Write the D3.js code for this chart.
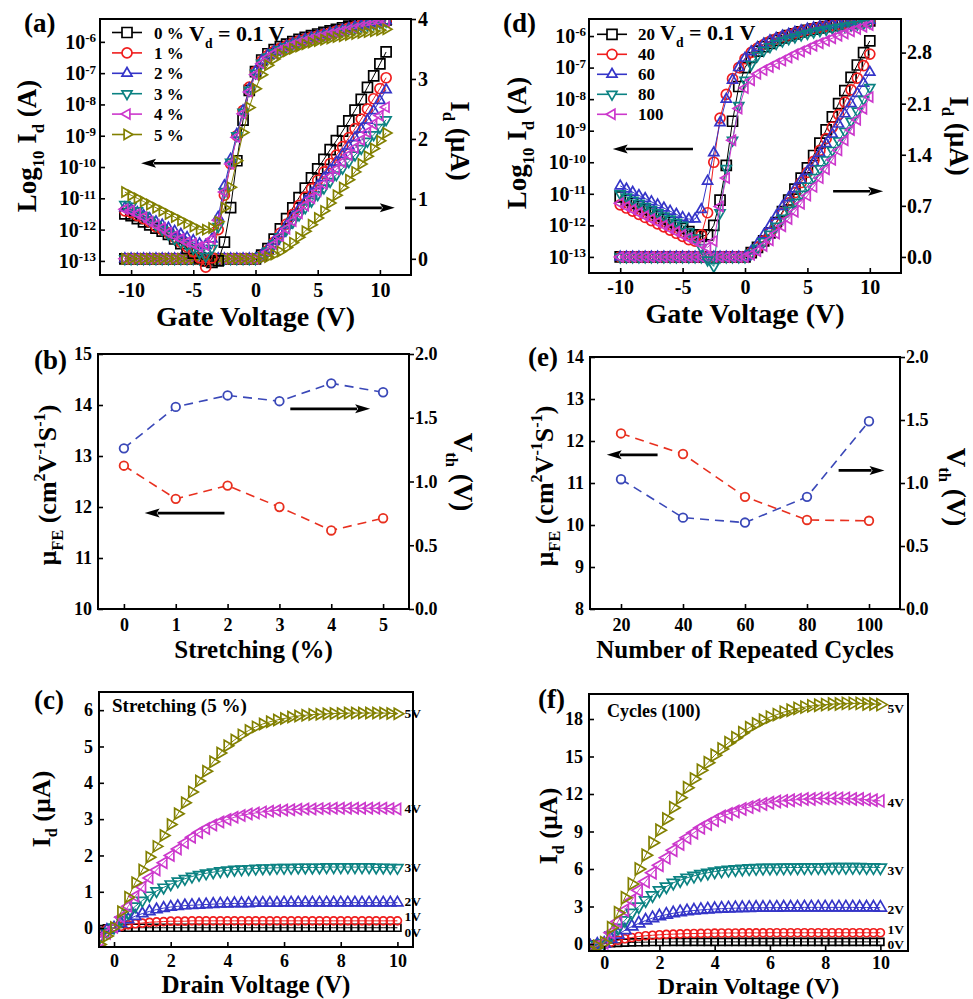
<!DOCTYPE html>
<html>
<head>
<meta charset="utf-8">
<script src="https://cdn.jsdelivr.net/npm/d3@7"></script>
<style>
  body { margin: 0; background: #fff; }
  svg text { white-space: pre; }
</style>
</head>
<body>
<div id="chart"></div>
<script>
//Colores y símbolos (orden Origin)
const FONT = '"Liberation Serif","Times New Roman",serif';
const COLORS = ['#000000', '#F01E1E', '#3535C8', '#0B8282', '#CC38CC', '#828000'];
const MARKS = ['square', 'circle', 'up', 'down', 'left', 'right'];
const MU_COLOR = '#E8301F', VTH_COLOR = '#3A48B8';

//Etiquetas
const strainLabels = ['0 %', '1 %', '2 %', '3 %', '4 %', '5 %'];
const cycleLabels = ['20', '40', '60', '80', '100'];
const gateLabels = ['0V', '1V', '2V', '3V', '4V', '5V'];

//Ticks
const logTicks = [-13, -12, -11, -10, -9, -8, -7, -6];
const gateTicks = [-10, -5, 0, 5, 10];
const linTicksStrain = [0, 1, 2, 3, 4];
const linTicksCycle = [0, 0.7, 1.4, 2.1, 2.8];
const stretchTicks = [0, 1, 2, 3, 4, 5];
const muTicksStretch = [10, 11, 12, 13, 14, 15];
const cycleTicks = [20, 40, 60, 80, 100];
const muTicksCycle = [8, 9, 10, 11, 12, 13, 14];
const vthTicks = [0, 0.5, 1, 1.5, 2];
const drainTicks = [0, 2, 4, 6, 8, 10];
const idTicksStretch = [0, 1, 2, 3, 4, 5, 6];
const idTicksCycle = [0, 3, 6, 9, 12, 15, 18];

//(a) Transferencia vs estiramiento: Vg (V), log10 Id (A), Id (µA)
const vgStrain = [-10.5,-10,-9.5,-9,-8.5,-8,-7.5,-7,-6.5,-6,-5.5,-5,-4.5,-4,-3.5,-3,-2.5,-2,-1.5,-1,-0.5,
  0,0.5,1,1.5,2,2.5,3,3.5,4,4.5,5,5.5,6,6.5,7,7.5,8,8.5,9,9.5,10,10.5];
const logIdStrain = [
  [-11.5,-11.55,-11.65,-11.75,-11.85,-11.95,-12.05,-12.15,-12.3,-12.45,-12.6,-12.75,-12.9,-13.0,-13.05,-13.0,-12.4,-11.3,-9.8,-8.5,-7.55,
   -6.95,-6.58,-6.38,-6.25,-6.15,-6.07,-5.99,-5.92,-5.86,-5.8,-5.75,-5.7,-5.65,-5.6,-5.55,-5.5,-5.45,-5.41,-5.38,-5.35,-5.32,-5.3],
  [-11.4,-11.45,-11.55,-11.65,-11.75,-11.9,-12.0,-12.1,-12.25,-12.4,-12.55,-12.7,-12.9,-13.2,-12.9,-12.0,-10.9,-9.9,-9.0,-8.2,-7.45,
   -6.95,-6.62,-6.43,-6.3,-6.2,-6.12,-6.04,-5.97,-5.91,-5.86,-5.81,-5.76,-5.71,-5.66,-5.61,-5.56,-5.51,-5.47,-5.43,-5.39,-5.35,-5.32],
  [-11.3,-11.35,-11.45,-11.55,-11.65,-11.75,-11.85,-11.95,-12.05,-12.15,-12.25,-12.35,-12.45,-12.5,-12.3,-11.6,-10.6,-9.75,-8.95,-8.2,-7.5,
   -6.95,-6.6,-6.42,-6.3,-6.22,-6.13,-6.05,-5.98,-5.92,-5.87,-5.82,-5.77,-5.72,-5.67,-5.62,-5.57,-5.52,-5.48,-5.44,-5.4,-5.36,-5.33],
  [-11.2,-11.25,-11.4,-11.55,-11.7,-11.85,-12.0,-12.15,-12.3,-12.4,-12.5,-12.6,-12.75,-12.85,-12.6,-11.9,-10.8,-9.85,-9.0,-8.25,-7.55,
   -7.0,-6.68,-6.48,-6.35,-6.25,-6.16,-6.08,-6.01,-5.95,-5.89,-5.84,-5.79,-5.74,-5.69,-5.64,-5.59,-5.55,-5.5,-5.46,-5.42,-5.38,-5.34],
  [-11.35,-11.4,-11.5,-11.6,-11.75,-11.85,-11.95,-12.1,-12.2,-12.3,-12.4,-12.45,-12.55,-12.5,-12.3,-11.7,-10.8,-9.9,-9.05,-8.3,-7.6,
   -7.05,-6.7,-6.5,-6.37,-6.27,-6.18,-6.1,-6.03,-5.97,-5.91,-5.86,-5.81,-5.76,-5.71,-5.66,-5.61,-5.57,-5.52,-5.48,-5.44,-5.4,-5.36],
  [-10.8,-10.9,-11.0,-11.1,-11.2,-11.3,-11.4,-11.5,-11.6,-11.7,-11.8,-11.9,-12.0,-12.0,-11.95,-11.75,-11.3,-10.65,-9.8,-8.9,-8.1,
   -7.5,-7.05,-6.75,-6.55,-6.4,-6.3,-6.22,-6.15,-6.08,-6.02,-5.97,-5.93,-5.89,-5.85,-5.82,-5.78,-5.75,-5.72,-5.69,-5.66,-5.63,-5.6]
];
const linIdStrain = [
  [0,0,0,0,0,0,0,0,0,0,0, 0,0,0,0,0,0,0,0,0,0,0,
   0.06,0.17,0.33,0.5,0.67,0.85,1.02,1.18,1.35,1.5,1.66,1.82,1.97,2.13,2.3,2.48,2.66,2.86,3.05,3.25,3.45],
  [0,0,0,0,0,0,0,0,0,0,0, 0,0,0,0,0,0,0,0,0,0,0,
   0.05,0.14,0.28,0.43,0.58,0.74,0.89,1.03,1.17,1.31,1.45,1.59,1.73,1.87,2.02,2.17,2.33,2.5,2.67,2.84,3.02],
  [0,0,0,0,0,0,0,0,0,0,0, 0,0,0,0,0,0,0,0,0,0,0,
   0.06,0.16,0.29,0.42,0.56,0.7,0.83,0.96,1.09,1.22,1.35,1.48,1.61,1.74,1.88,2.02,2.16,2.31,2.47,2.64,2.82],
  [0,0,0,0,0,0,0,0,0,0,0, 0,0,0,0,0,0,0,0,0,0,0,
   0.05,0.13,0.25,0.37,0.49,0.61,0.73,0.85,0.96,1.07,1.18,1.29,1.4,1.51,1.62,1.73,1.84,1.96,2.07,2.19,2.32],
  [0,0,0,0,0,0,0,0,0,0,0, 0,0,0,0,0,0,0,0,0,0,0,
   0.04,0.12,0.24,0.37,0.5,0.63,0.76,0.89,1.01,1.13,1.25,1.37,1.49,1.61,1.73,1.85,1.98,2.11,2.25,2.39,2.53],
  [0,0,0,0,0,0,0,0,0,0,0, 0,0,0,0,0,0,0,0,0,0,0,
   0.01,0.03,0.07,0.12,0.19,0.27,0.36,0.46,0.57,0.68,0.8,0.93,1.06,1.19,1.32,1.45,1.58,1.71,1.84,1.97,2.1]
];

//(d) Transferencia vs ciclos
const vgCycle = [-10,-9.5,-9,-8.5,-8,-7.5,-7,-6.5,-6,-5.5,-5,-4.5,-4,-3.5,-3,-2.5,-2,-1.5,-1,-0.5,
  0,0.5,1,1.5,2,2.5,3,3.5,4,4.5,5,5.5,6,6.5,7,7.5,8,8.5,9,9.5,10];
const logIdCycle = [
  [-11.1,-11.2,-11.3,-11.4,-11.5,-11.6,-11.7,-11.8,-11.9,-12.0,-12.1,-12.2,-12.3,-12.35,-12.3,-12.0,-11.2,-10.1,-8.7,-7.6,
   -7.0,-6.68,-6.48,-6.34,-6.23,-6.14,-6.06,-5.99,-5.93,-5.87,-5.82,-5.78,-5.74,-5.7,-5.67,-5.64,-5.61,-5.58,-5.56,-5.54,-5.52],
  [-11.35,-11.45,-11.55,-11.65,-11.75,-11.85,-11.95,-12.05,-12.15,-12.25,-12.35,-12.45,-12.5,-12.3,-11.6,-10.0,-8.6,-7.85,-7.35,-7.0,
   -6.72,-6.52,-6.38,-6.27,-6.17,-6.09,-6.02,-5.96,-5.9,-5.85,-5.8,-5.76,-5.72,-5.69,-5.66,-5.63,-5.6,-5.58,-5.56,-5.54,-5.52],
  [-10.75,-10.85,-10.95,-11.05,-11.15,-11.25,-11.35,-11.45,-11.55,-11.65,-11.75,-11.8,-11.8,-11.5,-10.6,-9.7,-8.75,-8.0,-7.4,-7.0,
   -6.7,-6.5,-6.36,-6.25,-6.15,-6.07,-6.0,-5.94,-5.88,-5.83,-5.78,-5.74,-5.7,-5.67,-5.64,-5.61,-5.58,-5.56,-5.54,-5.52,-5.5],
  [-11.0,-11.1,-11.2,-11.3,-11.4,-11.5,-11.6,-11.7,-11.8,-11.9,-12.0,-12.2,-12.4,-12.7,-13.1,-13.3,-11.6,-10.2,-9.3,-8.2,
   -7.4,-6.9,-6.62,-6.46,-6.34,-6.24,-6.16,-6.09,-6.03,-5.97,-5.92,-5.87,-5.83,-5.79,-5.75,-5.72,-5.69,-5.66,-5.63,-5.6,-5.57],
  [-11.3,-11.4,-11.5,-11.6,-11.7,-11.8,-11.9,-12.0,-12.1,-12.2,-12.3,-12.4,-12.5,-12.6,-12.7,-12.5,-11.4,-10.5,-9.3,-8.3,
   -7.65,-7.4,-7.2,-7.08,-6.98,-6.88,-6.78,-6.68,-6.58,-6.49,-6.4,-6.31,-6.23,-6.15,-6.07,-5.99,-5.92,-5.85,-5.78,-5.71,-5.65]
];
const linIdCycle = [
  [0,0,0,0,0,0,0,0,0,0, 0,0,0,0,0,0,0,0,0,0,0,
   0.06,0.13,0.22,0.33,0.47,0.62,0.78,0.93,1.08,1.22,1.39,1.56,1.74,1.92,2.1,2.28,2.46,2.63,2.8,2.96],
  [0,0,0,0,0,0,0,0,0,0, 0,0,0,0,0,0,0,0,0,0,0,
   0.06,0.13,0.22,0.33,0.46,0.6,0.74,0.88,1.02,1.16,1.31,1.46,1.62,1.78,1.95,2.12,2.29,2.45,2.62,2.78],
  [0,0,0,0,0,0,0,0,0,0, 0,0,0,0,0,0,0,0,0,0,0,
   0.08,0.18,0.3,0.43,0.56,0.69,0.81,0.93,1.05,1.17,1.29,1.42,1.55,1.68,1.82,1.96,2.1,2.24,2.38,2.53],
  [0,0,0,0,0,0,0,0,0,0, 0,0,0,0,0,0,0,0,0,0,0,
   0.05,0.12,0.21,0.31,0.42,0.53,0.64,0.75,0.86,0.97,1.09,1.21,1.33,1.46,1.59,1.72,1.86,2.0,2.16,2.32],
  [0,0,0,0,0,0,0,0,0,0, 0,0,0,0,0,0,0,0,0,0,0,
   0.03,0.08,0.15,0.23,0.32,0.42,0.52,0.62,0.73,0.84,0.96,1.08,1.2,1.33,1.46,1.6,1.74,1.88,2.03,2.19]
];

//(b) Movilidad y Vth vs estiramiento
const stretchLevels = [0, 1, 2, 3, 4, 5];
const muStretch = [12.81, 12.16, 12.42, 12.0, 11.54, 11.78];
const vthStretch = [1.26, 1.585, 1.675, 1.63, 1.77, 1.70];

//(e) Movilidad y Vth vs ciclos
const cycleCounts = [20, 40, 60, 80, 100];
const muCycle = [12.18, 11.69, 10.67, 10.12, 10.10];
const vthCycle = [1.03, 0.725, 0.686, 0.89, 1.49];

//(c) y (f) Curvas de salida: Vd (V), Id (µA) para Vg = 0..5 V
const vdSweep = [-0.5,-0.25,0,0.25,0.5,0.75,1,1.25,1.5,1.75,
  2,2.25,2.5,2.75,3,3.25,3.5,3.75,4,4.25,
  4.5,4.75,5,5.25,5.5,5.75,6,6.25,6.5,6.75,
  7,7.25,7.5,7.75,8,8.25,8.5,8.75,9,9.25,
  9.5,9.75,10];
const idStretch5 = [
  [-0.03,-0.01,0,0.01,0.01,0.01,0.01,0.01,0.01,0.01,
   0.01,0.01,0.01,0.01,0.01,0.01,0.01,0.01,0.01,0.01,
   0.01,0.01,0.01,0.01,0.01,0.01,0.01,0.01,0.01,0.01,
   0.01,0.01,0.01,0.01,0.01,0.01,0.01,0.01,0.01,0.01,
   0.01,0.01,0.01],
  [-0.08,-0.03,0,0.05,0.09,0.12,0.14,0.16,0.17,0.18,
   0.19,0.19,0.19,0.2,0.2,0.2,0.2,0.2,0.2,0.2,
   0.2,0.2,0.2,0.2,0.2,0.2,0.2,0.2,0.2,0.2,
   0.2,0.2,0.2,0.2,0.2,0.2,0.2,0.2,0.2,0.2,
   0.2,0.2,0.2],
  [-0.15,-0.05,0.01,0.13,0.24,0.33,0.4,0.46,0.51,0.55,
   0.58,0.6,0.62,0.63,0.64,0.65,0.66,0.67,0.67,0.68,
   0.68,0.68,0.69,0.69,0.69,0.69,0.7,0.7,0.7,0.7,
   0.7,0.7,0.7,0.7,0.7,0.7,0.7,0.7,0.7,0.7,
   0.7,0.7,0.7],
  [-0.25,-0.1,0.02,0.22,0.42,0.6,0.76,0.9,1.02,1.12,
   1.21,1.29,1.36,1.42,1.47,1.51,1.54,1.57,1.59,1.61,
   1.62,1.63,1.64,1.65,1.65,1.66,1.66,1.66,1.67,1.67,
   1.67,1.67,1.68,1.68,1.68,1.68,1.68,1.68,1.68,1.67,
   1.67,1.66,1.66],
  [-0.35,-0.15,0.02,0.3,0.6,0.88,1.13,1.38,1.6,1.8,
   2.0,2.18,2.35,2.5,2.63,2.74,2.84,2.92,2.99,3.05,
   3.1,3.14,3.17,3.2,3.22,3.24,3.25,3.26,3.27,3.28,
   3.28,3.29,3.29,3.3,3.3,3.3,3.3,3.3,3.3,3.3,
   3.3,3.29,3.28],
  [-0.45,-0.22,0.02,0.45,0.85,1.25,1.6,1.95,2.25,2.55,
   2.85,3.15,3.45,3.75,4.05,4.32,4.58,4.82,5.02,5.18,
   5.32,5.44,5.54,5.62,5.68,5.73,5.77,5.81,5.84,5.86,
   5.88,5.89,5.9,5.91,5.91,5.92,5.92,5.92,5.92,5.92,
   5.92,5.91,5.9]
];
const idCycle100 = [
  [-0.05,0,0.02,0.06,0.09,0.11,0.13,0.14,0.15,0.16,
   0.16,0.16,0.17,0.17,0.17,0.17,0.17,0.17,0.17,0.17,
   0.17,0.17,0.17,0.17,0.17,0.17,0.17,0.17,0.17,0.17,
   0.17,0.17,0.17,0.17,0.17,0.17,0.17,0.17,0.17,0.17,
   0.17,0.17,0.17],
  [-0.1,-0.03,0.02,0.15,0.3,0.42,0.52,0.6,0.66,0.7,
   0.74,0.77,0.79,0.81,0.83,0.84,0.85,0.86,0.87,0.88,
   0.88,0.88,0.89,0.89,0.89,0.89,0.9,0.9,0.9,0.9,
   0.9,0.9,0.9,0.9,0.9,0.9,0.9,0.9,0.9,0.9,
   0.9,0.9,0.9],
  [-0.2,-0.05,0.03,0.4,0.75,1.1,1.4,1.65,1.88,2.07,
   2.22,2.35,2.46,2.55,2.62,2.68,2.73,2.77,2.8,2.83,
   2.85,2.87,2.88,2.89,2.9,2.9,2.91,2.91,2.92,2.92,
   2.92,2.93,2.93,2.93,2.93,2.93,2.93,2.93,2.93,2.92,
   2.92,2.92,2.91],
  [-0.3,-0.1,0.05,0.7,1.3,1.9,2.5,3.0,3.5,3.9,
   4.3,4.6,4.9,5.1,5.3,5.45,5.6,5.7,5.8,5.87,
   5.93,5.98,6.02,6.05,6.07,6.09,6.1,6.1,6.11,6.12,
   6.12,6.13,6.13,6.14,6.14,6.15,6.15,6.15,6.15,6.15,
   6.14,6.13,6.12],
  [-0.4,-0.15,0.1,0.9,1.8,2.7,3.5,4.3,5.0,5.7,
   6.3,6.9,7.5,8.0,8.5,8.9,9.3,9.6,9.9,10.2,
   10.4,10.6,10.8,10.95,11.1,11.2,11.3,11.4,11.45,11.5,
   11.55,11.6,11.6,11.65,11.65,11.65,11.65,11.65,11.6,11.6,
   11.55,11.5,11.45],
  [-0.5,-0.2,0.1,1.3,2.5,3.7,4.8,6.0,7.1,8.1,
   9.1,10.0,10.9,11.7,12.5,13.2,13.9,14.5,15.1,15.6,
   16.1,16.5,16.9,17.3,17.6,17.9,18.15,18.35,18.55,18.7,
   18.85,18.95,19.05,19.1,19.15,19.2,19.2,19.25,19.25,19.25,
   19.2,19.2,19.15]
];

/////
// Lienzo
/////
const svg = d3.select('#chart').append('svg')
  .attr('width', 973).attr('height', 999)
  .attr('font-family', FONT).attr('font-weight', 'bold');
svg.append('rect').attr('width', 973).attr('height', 999).attr('fill', '#fff');
const defs = svg.append('defs');

const SYMBOLS = {
  square: { type: d3.symbolSquare, rot: 0, area: w => w * w },
  circle: { type: d3.symbolCircle, rot: 0, area: w => Math.PI * w * w / 4 },
  up:     { type: d3.symbolTriangle, rot: 0, area: w => Math.sqrt(3) / 4 * w * w },
  down:   { type: d3.symbolTriangle, rot: 180, area: w => Math.sqrt(3) / 4 * w * w },
  left:   { type: d3.symbolTriangle, rot: -90, area: w => Math.sqrt(3) / 4 * w * w },
  right:  { type: d3.symbolTriangle, rot: 90, area: w => Math.sqrt(3) / 4 * w * w }
};

//Texto con sub/superíndices
function richText(parent, x, y, parts, size, opts) {
  opts = opts || {};
  let t = parent.append('text')
    .attr('font-size', size)
    .attr('fill', '#000')
    .attr('text-anchor', opts.anchor || 'start')
    .attr('transform', 'translate(' + x + ',' + y + ')' + (opts.rotate ? ' rotate(' + opts.rotate + ')' : ''));
  let shift = 0;
  parts.forEach(function(p) {
    let mode = p[1] || '';
    let target = mode === 'sup' ? -0.42 * size : mode === 'sub' ? (opts.subDrop || 0.28) * size : 0;
    let ts = t.append('tspan').attr('dy', target - shift).text(p[0]);
    if (mode) ts.attr('font-size', size * 0.62);
    shift = target;
  });
  return t;
}

function makePanel(id, box) {
  let g = svg.append('g').attr('class', 'panel-' + id);
  defs.append('clipPath').attr('id', 'clip-' + id).append('rect')
    .attr('x', box.x0).attr('y', box.y0)
    .attr('width', box.x1 - box.x0).attr('height', box.y1 - box.y0);
  let plot = g.append('g').attr('clip-path', 'url(#clip-' + id + ')');
  return { g: g, plot: plot };
}

function drawFrame(g, box) {
  g.append('rect')
    .attr('x', box.x0).attr('y', box.y0)
    .attr('width', box.x1 - box.x0).attr('height', box.y1 - box.y0)
    .attr('fill', 'none').attr('stroke', '#000').attr('stroke-width', 2);
}

function addAxis(g, axis, tx, ty, size) {
  return g.append('g')
    .attr('transform', 'translate(' + tx + ',' + ty + ')')
    .call(axis)
    .attr('font-family', FONT).attr('font-size', size).attr('font-weight', 'bold')
    .call(function(a) { a.select('.domain').remove(); })
    .call(function(a) { a.selectAll('.tick line').attr('stroke', '#000').attr('stroke-width', 1.6); })
    .call(function(a) { a.selectAll('.tick text').attr('fill', '#000'); });
}

function symbolPath(mark, w) {
  let def = SYMBOLS[mark];
  return d3.symbol().type(def.type).size(def.area(w))();
}

function drawSeries(plot, xs, ys, x, y, color, mark, w, lineW) {
  let pts = d3.zip(xs, ys);
  if (lineW) {
    plot.append('path').datum(pts)
      .attr('d', d3.line().x(function(d) { return x(d[0]); }).y(function(d) { return y(d[1]); }))
      .attr('fill', 'none').attr('stroke', color).attr('stroke-width', lineW);
  }
  let def = SYMBOLS[mark];
  plot.append('g').selectAll('path').data(pts).join('path')
    .attr('d', symbolPath(mark, w))
    .attr('transform', function(d) { return 'translate(' + x(d[0]) + ',' + y(d[1]) + ') rotate(' + def.rot + ')'; })
    .attr('fill', 'none').attr('stroke', color).attr('stroke-width', 1.7);
}

function arrow(g, x1, x2, yy) {
  let dir = Math.sign(x2 - x1), head = 15, half = 4.5;
  g.append('line')
    .attr('x1', x1).attr('y1', yy).attr('x2', x2 - dir * (head - 2)).attr('y2', yy)
    .attr('stroke', '#000').attr('stroke-width', 2.6);
  g.append('path')
    .attr('d', 'M' + x2 + ',' + yy + 'L' + (x2 - dir * head) + ',' + (yy - half) +
      'L' + (x2 - dir * (head - 3)) + ',' + yy + 'L' + (x2 - dir * head) + ',' + (yy + half) + 'Z')
    .attr('fill', '#000');
}

const LOG_LABEL = [['Log'], ['10', 'sub'], [' I'], ['d', 'sub'], [' (A)']];
const ID_LABEL = [['I'], ['d', 'sub'], [' (µA)']];
const MU_LABEL = [['µ'], ['FE', 'sub'], [' (cm'], ['2', 'sup'], ['V'], ['-1', 'sup'], ['S'], ['-1', 'sup'], [')']];
const VTH_LABEL = [['V'], ['th', 'sub'], [' (V)']];
const VD_LABEL = [['V'], ['d', 'sub'], [' = 0.1 V']];

/////
// Paneles de transferencia (a) y (d)
/////
function transferPanel(cfg) {
  let p = makePanel(cfg.id, cfg.box), box = cfg.box;
  let x = d3.scaleLinear().domain(cfg.xDom).range([box.x0, box.x1]);
  let yL = d3.scaleLinear().domain(cfg.logDom).range([box.y1, box.y0]);
  let yR = d3.scaleLinear().domain(cfg.linDom).range([box.y1, box.y0]);

  cfg.lin.forEach(function(s, i) { drawSeries(p.plot, cfg.vg, s, x, yR, COLORS[i], MARKS[i], 10, 1); });
  cfg.log.forEach(function(s, i) { drawSeries(p.plot, cfg.vg, s, x, yL, COLORS[i], MARKS[i], 10, 1); });

  drawFrame(p.g, box);
  addAxis(p.g, d3.axisBottom(x).tickValues(gateTicks).tickSize(-5).tickPadding(cfg.xPad).tickFormat(function(d) { return String(d); }), 0, box.y1, 20);
  let la = addAxis(p.g, d3.axisLeft(yL).tickValues(logTicks).tickSize(-5).tickPadding(cfg.lPad).tickFormat(function() { return '10'; }), box.x0, 0, 20);
  la.selectAll('.tick text').append('tspan').attr('dy', '-0.5em').attr('font-size', 13).text(function(d) { return String(d); });
  addAxis(p.g, d3.axisRight(yR).tickValues(cfg.linTicks).tickSize(5).tickPadding(cfg.rPad).tickFormat(cfg.linFmt), box.x1, 0, 20);

  //Leyenda
  let lg = cfg.legend;
  cfg.names.forEach(function(name, i) {
    let cy = lg.y0 + i * lg.dy;
    p.g.append('line').attr('x1', lg.x0).attr('x2', lg.x1).attr('y1', cy).attr('y2', cy)
      .attr('stroke', COLORS[i]).attr('stroke-width', 1.6);
    p.g.append('path').attr('d', symbolPath(MARKS[i], 10))
      .attr('transform', 'translate(' + ((lg.x0 + lg.x1) / 2) + ',' + cy + ') rotate(' + SYMBOLS[MARKS[i]].rot + ')')
      .attr('fill', '#fff').attr('stroke', COLORS[i]).attr('stroke-width', 1.7);
    p.g.append('text').attr('x', lg.tx).attr('y', cy + 6).attr('font-size', 17).attr('fill', '#000').text(name);
  });
  richText(p.g, cfg.vd[0], cfg.vd[1], VD_LABEL, 22, { subDrop: 0.3 });

  //Flechas
  arrow(p.g, x(cfg.arrL[0]), x(cfg.arrL[1]), yL(cfg.arrL[2]));
  arrow(p.g, x(cfg.arrR[0]), x(cfg.arrR[1]), yR(cfg.arrR[2]));

  //Títulos
  richText(p.g, (box.x0 + box.x1) / 2, cfg.xTitleY, [['Gate Voltage (V)']], 28, { anchor: 'middle' });
  richText(p.g, cfg.lTitle[0], cfg.lTitle[1], LOG_LABEL, 27, { anchor: 'middle', rotate: -90 });
  richText(p.g, cfg.rTitle[0], cfg.rTitle[1], ID_LABEL, 27, { anchor: 'middle', rotate: 90 });
  richText(p.g, cfg.tag[0], cfg.tag[1], [[cfg.tagText]], 27);
}

transferPanel({
  id: 'a', box: { x0: 100, x1: 411, y0: 19, y1: 275 },
  xDom: [-12.5, 12.5], logDom: [-13.45, -5.27], linDom: [-0.27, 4],
  vg: vgStrain, log: logIdStrain, lin: linIdStrain, names: strainLabels,
  linTicks: linTicksStrain, linFmt: d3.format('d'),
  xPad: 8, lPad: 4, rPad: 2,
  legend: { x0: 112, x1: 142, tx: 154, y0: 32.5, dy: 20.4 },
  vd: [189, 41],
  arrL: [-2.8, -9.2, -9.88], arrR: [7.2, 11.2, 0.85],
  xTitleY: 326, lTitle: [36, 146], rTitle: [451, 141], tag: [24, 32], tagText: '(a)'
});

transferPanel({
  id: 'd', box: { x0: 589, x1: 901, y0: 19, y1: 273 },
  xDom: [-12.5, 12.5], logDom: [-13.51, -5.46], linDom: [-0.22, 3.26],
  vg: vgCycle, log: logIdCycle, lin: linIdCycle, names: cycleLabels,
  linTicks: linTicksCycle, linFmt: d3.format('.1f'),
  xPad: 7, lPad: 3, rPad: 1,
  legend: { x0: 597, x1: 627, tx: 638, y0: 34.3, dy: 20 },
  vd: [660, 40],
  arrL: [-4.17, -10.6, -9.58], arrR: [7.06, 11.07, 0.9],
  xTitleY: 323, lTitle: [526, 143], rTitle: [950, 136], tag: [503, 32], tagText: '(d)'
});

/////
// Paneles de movilidad y Vth (b) y (e)
/////
function paramPanel(cfg) {
  let p = makePanel(cfg.id, cfg.box), box = cfg.box;
  let x = d3.scaleLinear().domain(cfg.xDom).range([box.x0, box.x1]);
  let yL = d3.scaleLinear().domain(cfg.muDom).range([box.y1, box.y0]);
  let yR = d3.scaleLinear().domain([0, 2]).range([box.y1, box.y0]);

  [[cfg.vth, yR, VTH_COLOR], [cfg.mu, yL, MU_COLOR]].forEach(function(s) {
    let pts = d3.zip(cfg.xs, s[0]);
    p.plot.append('path').datum(pts)
      .attr('d', d3.line().x(function(d) { return x(d[0]); }).y(function(d) { return s[1](d[1]); }))
      .attr('fill', 'none').attr('stroke', s[2]).attr('stroke-width', 1.6).attr('stroke-dasharray', '9,6');
    p.plot.append('g').selectAll('circle').data(pts).join('circle')
      .attr('cx', function(d) { return x(d[0]); }).attr('cy', function(d) { return s[1](d[1]); })
      .attr('r', 4.3).attr('fill', '#fff').attr('stroke', s[2]).attr('stroke-width', 1.8);
  });

  drawFrame(p.g, box);
  addAxis(p.g, d3.axisBottom(x).tickValues(cfg.xTicks).tickSize(-5).tickPadding(cfg.xPad).tickFormat(d3.format('d')), 0, box.y1, 18);
  addAxis(p.g, d3.axisLeft(yL).tickValues(cfg.muTicks).tickSize(-5).tickPadding(6).tickFormat(d3.format('d')), box.x0, 0, 18);
  addAxis(p.g, d3.axisRight(yR).tickValues(vthTicks).tickSize(5).tickPadding(1).tickFormat(d3.format('.1f')), box.x1, 0, 18);

  arrow(p.g, x(cfg.arrMu[0]), x(cfg.arrMu[1]), yL(cfg.arrMu[2]));
  arrow(p.g, x(cfg.arrVth[0]), x(cfg.arrVth[1]), yR(cfg.arrVth[2]));

  richText(p.g, (box.x0 + box.x1) / 2, cfg.xTitleY, [[cfg.xTitle]], 25, { anchor: 'middle' });
  richText(p.g, cfg.lTitle[0], cfg.lTitle[1], MU_LABEL, 26, { anchor: 'middle', rotate: -90 });
  richText(p.g, cfg.rTitle[0], cfg.rTitle[1], VTH_LABEL, 27, { anchor: 'middle', rotate: 90 });
  richText(p.g, cfg.tag[0], cfg.tag[1], [[cfg.tagText]], 27);
}

paramPanel({
  id: 'b', box: { x0: 98, x1: 409, y0: 354, y1: 609 },
  xDom: [-0.5, 5.5], muDom: [10, 15], xs: stretchLevels, mu: muStretch, vth: vthStretch,
  xTicks: stretchTicks, muTicks: muTicksStretch, xPad: 9,
  arrMu: [1.94, 0.4, 11.88], arrVth: [3.21, 4.75, 1.57],
  xTitle: 'Stretching (%)', xTitleY: 658, lTitle: [56, 485], rTitle: [454, 472],
  tag: [34, 369], tagText: '(b)'
});

paramPanel({
  id: 'e', box: { x0: 590, x1: 900, y0: 357, y1: 609 },
  xDom: [10, 110], muDom: [8, 14], xs: cycleCounts, mu: muCycle, vth: vthCycle,
  xTicks: cycleTicks, muTicks: muTicksCycle, xPad: 9,
  arrMu: [31.8, 15.4, 11.67], arrVth: [90.2, 105, 1.1],
  xTitle: 'Number of Repeated Cycles', xTitleY: 658, lTitle: [553, 486], rTitle: [947, 487],
  tag: [528, 366], tagText: '(e)'
});

/////
// Paneles de salida (c) y (f)
/////
function outputPanel(cfg) {
  let p = makePanel(cfg.id, cfg.box), box = cfg.box;
  let x = d3.scaleLinear().domain(cfg.xDom).range([box.x0, box.x1]);
  let y = d3.scaleLinear().domain(cfg.yDom).range([box.y1, box.y0]);

  cfg.series.forEach(function(s, i) {
    let w = MARKS[i] === 'square' ? 7 : MARKS[i] === 'circle' ? 8 : cfg.triW;
    drawSeries(p.plot, vdSweep, s, x, y, COLORS[i], MARKS[i], w, 1);
  });

  drawFrame(p.g, box);
  addAxis(p.g, d3.axisBottom(x).tickValues(drainTicks).tickSize(-5).tickPadding(cfg.xPad).tickFormat(d3.format('d')), 0, box.y1, 18);
  addAxis(p.g, d3.axisLeft(y).tickValues(cfg.yTicks).tickSize(-5).tickPadding(6).tickFormat(d3.format('d')), box.x0, 0, 18);

  //Etiquetas de Vg al final de cada curva
  cfg.series.forEach(function(s, i) {
    p.g.append('text')
      .attr('x', x(vdSweep[vdSweep.length - 1]) + 7)
      .attr('y', y(s[s.length - 1]) + 4.5 + cfg.labelShift[i])
      .attr('font-size', 13.5).attr('fill', '#000')
      .text(gateLabels[i]);
  });

  richText(p.g, cfg.note[0], cfg.note[1], [[cfg.noteText]], cfg.noteSize);
  richText(p.g, (box.x0 + box.x1) / 2, cfg.xTitleY, [['Drain Voltage (V)']], cfg.xTitleSize, { anchor: 'middle' });
  richText(p.g, cfg.lTitle[0], cfg.lTitle[1], ID_LABEL, 26, { anchor: 'middle', rotate: -90 });
  richText(p.g, cfg.tag[0], cfg.tag[1], [[cfg.tagText]], 27);
}

outputPanel({
  id: 'c', box: { x0: 99, x1: 413, y0: 692, y1: 947 },
  xDom: [-0.53, 10.55], yDom: [-0.52, 6.5], series: idStretch5, yTicks: idTicksStretch,
  triW: 11, xPad: 7, labelShift: [4.4, -4.2, -1.6, 0, 0, 0],
  note: [112, 712], noteText: 'Stretching (5 %)', noteSize: 19,
  xTitleY: 993, xTitleSize: 25, lTitle: [50, 809], tag: [34, 709], tagText: '(c)'
});

outputPanel({
  id: 'f', box: { x0: 589, x1: 908, y0: 694, y1: 951 },
  xDom: [-0.55, 11], yDom: [-0.56, 20], series: idCycle100, yTicks: idTicksCycle,
  triW: 12, xPad: 5, labelShift: [2.9, -3, 2, 2.6, 1.4, 4],
  note: [607, 717], noteText: 'Cycles (100)', noteSize: 18,
  xTitleY: 994, xTitleSize: 24, lTitle: [557, 826], tag: [538, 708], tagText: '(f)'
});
</script>
</body>
</html>
